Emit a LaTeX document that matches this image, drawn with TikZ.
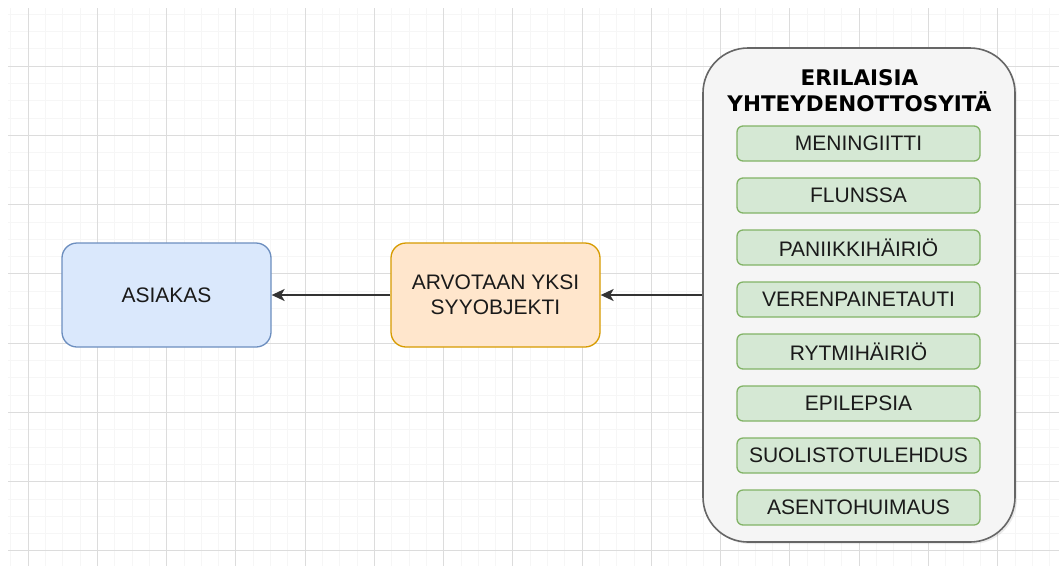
\documentclass[tikz,border=0pt]{standalone}
\usepackage{fontspec}
\setmainfont{Liberation Sans}
\newfontfamily\titlefont{DejaVu Sans}
\usetikzlibrary{arrows.meta}

\definecolor{bluefill}{HTML}{DAE8FC}
\definecolor{bluedraw}{HTML}{6C8EBF}
\definecolor{orangefill}{HTML}{FFE6CC}
\definecolor{orangedraw}{HTML}{D79B00}
\definecolor{greenfill}{HTML}{D5E8D4}
\definecolor{greendraw}{HTML}{82B366}
\definecolor{groupfill}{HTML}{F5F5F5}
\definecolor{groupdraw}{HTML}{666666}
\definecolor{gridminor}{HTML}{F6F6F6}
\definecolor{gridmajor}{HTML}{DCDCDC}
\definecolor{textcol}{HTML}{1A1A1A}

\tikzset{
  minorline/.style={draw=gridminor, line width=1pt},
  majorline/.style={draw=gridmajor, line width=1.4pt},
  mainbox/.style={rectangle, rounded corners=15pt, line width=1.3pt,
    minimum width=209pt, minimum height=104pt, align=center,
    text=textcol, font=\fontsize{21}{25}\selectfont, inner sep=0pt},
  bluebox/.style={mainbox, fill=bluefill, draw=bluedraw},
  orangebox/.style={mainbox, fill=orangefill, draw=orangedraw},
  groupbox/.style={rectangle, rounded corners=45pt, line width=1.6pt,
    fill=groupfill, draw=groupdraw, minimum width=312pt, minimum height=494pt,
    inner sep=0pt},
  grouptitle/.style={font=\titlefont\bfseries\fontsize{21.5}{25}\selectfont,
    text=black, inner sep=0pt, anchor=base},
  causebox/.style={rectangle, rounded corners=6pt, line width=1.3pt,
    fill=greenfill, draw=greendraw, minimum width=243pt, minimum height=35pt,
    text=textcol, font=\fontsize{21}{24}\selectfont, inner sep=0pt},
  flow/.style={draw=black!80, line width=1.7pt,
    -{Stealth[length=13pt, width=12pt, inset=3.5pt]}}
}

\begin{document}
\begin{tikzpicture}[x=1pt, y=-1pt]
\useasboundingbox (0,0) rectangle (1059,566);
\fill[white] (0,0) rectangle (1059,566);

% background grid, lines snapped to whole pixels
\foreach \k in {-1,...,59} {
  \draw[minorline] ({round(27.7+17.3125*\k)+0.5},8) -- ({round(27.7+17.3125*\k)+0.5},566);
}
\foreach \k in {-3,...,28} {
  \draw[minorline] (8,{round(65.7+17.3125*\k)+0.5}) -- (1059,{round(65.7+17.3125*\k)+0.5});
}
\foreach \k in {0,...,14} {
  \draw[majorline] ({round(27.7+69.25*\k)+0.5},8) -- ({round(27.7+69.25*\k)+0.5},566);
}
\foreach \k in {0,...,7} {
  \draw[majorline] (8,{round(65.7+69.25*\k)+0.5}) -- (1059,{round(65.7+69.25*\k)+0.5});
}

% main boxes
\node[bluebox] (asiakas) at (166.5,295) {ASIAKAS};
\node[orangebox] (arvo) at (495.5,295) {ARVOTAAN YKSI\\SYYOBJEKTI};

% group of causes
\fill[black, opacity=0.08, rounded corners=45pt] (705,50) rectangle (1017,544);
\node[groupbox] (syyt) at (859,295) {};
\node[grouptitle] (otsikko1) at (859.5,85.7) {ERILAISIA};
\node[grouptitle] (otsikko2) at (859.5,111) {YHTEYDENOTTOSYITÄ};

\foreach \txt [count=\i from 0] in {MENINGIITTI, FLUNSSA, PANIIKKIHÄIRIÖ,
    VERENPAINETAUTI, RYTMIHÄIRIÖ, EPILEPSIA, SUOLISTOTULEHDUS, ASENTOHUIMAUS} {
  \node[causebox] (syy\i) at (858.5,{143.5+52*\i}) {\txt};
}

% connectors
\draw[flow] (syyt.west) -- (arvo.east);
\draw[flow] (arvo.west) -- (asiakas.east);
\end{tikzpicture}
\end{document}
